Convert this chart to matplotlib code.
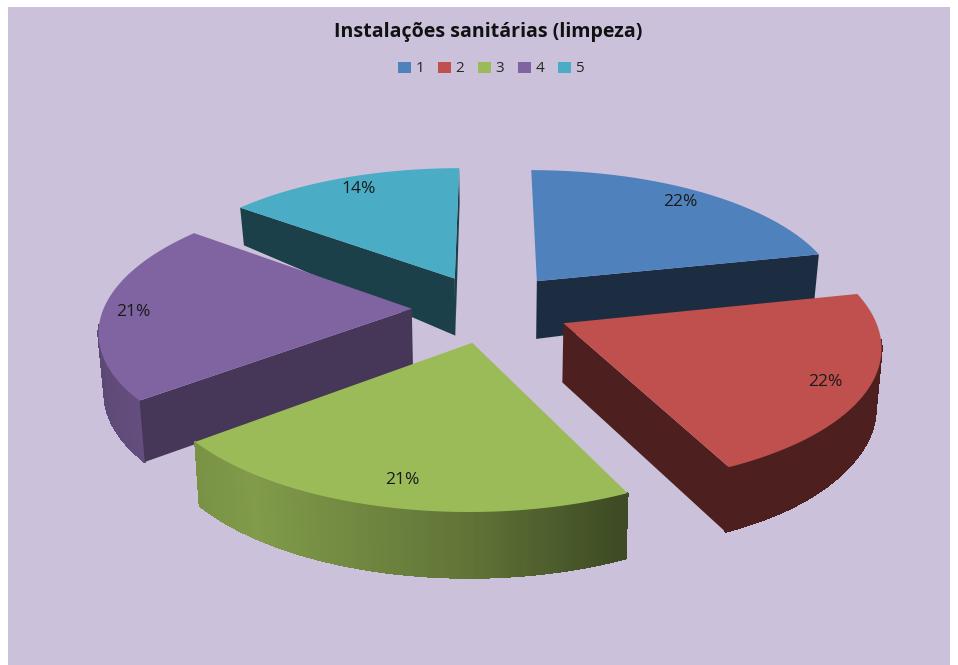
import numpy as np
import matplotlib
matplotlib.use("Agg")
import matplotlib.pyplot as plt
from matplotlib.patches import Patch, Polygon, Rectangle

title = "Instalações sanitárias (limpeza)"
categories = ["1", "2", "3", "4", "5"]
values = [22, 22, 21, 21, 14]
labels = ["22%", "22%", "21%", "21%", "14%"]
colors = ["#4f81bd", "#c0504d", "#9bbb59", "#8064a2", "#4bacc6"]

CX, CY, A, B, K = 491.0, 308.0, 308.0, 134.0, 0.143
EXPLODE = 0.257
BOTTOM_SCALE = 0.985
DEPTH_V = [-1.3, -0.9, -0.6, 0.2, 0.5, 0.8, 1.3]
DEPTH_PX = [66, 64, 61, 58, 47, 38, 34]
TWIST_AT = [0, 60, 79, 158, 180, 234, 300, 360]
TWIST_DEG = [0, -1.8, -1.8, -3.8, -3.8, -2.6, -2.2, 0]
LABEL_DX = [5, -5, 6, -6, 12]
LABEL_DY = [2, 3, -4, 1, -2]


def twist(angle):
    return angle + np.deg2rad(np.interp(np.rad2deg(angle) % 360, TWIST_AT, TWIST_DEG))


def project(u, v, bottom=False):
    w = 1 + K * v
    x = CX + A * u / w
    y = CY - B * v / w
    if bottom:
        x = CX + (x - CX) * BOTTOM_SCALE
        y = y + np.interp(v, DEPTH_V, DEPTH_PX)
    return x, y


def side_colour(rgb, nx):
    f = np.interp(nx, [-1.0, -0.6, 0.0, 0.4, 1.0], [0.72, 0.83, 0.62, 0.40, 0.40])
    return tuple(np.array(rgb) * f)


fig = plt.figure(figsize=(9.58, 6.65), dpi=100, facecolor="white")
ax = fig.add_axes([0, 0, 1, 1])
ax.set_xlim(0, 958)
ax.set_ylim(665, 0)
ax.axis("off")
ax.add_patch(Rectangle((8, 7), 942, 658, fc="#ccc1da", ec="none", zorder=0))

fractions = np.array(values, float) / np.sum(values)
edges = np.concatenate([[0], np.cumsum(fractions)]) * 2 * np.pi
cut_shade = [0.35, 0.40, 0.40, 0.55, 0.37]

order = [4, 0, 3, 1, 2]
zo = 2
for i in order:
    a0, a1 = edges[i], edges[i + 1]
    mid = 0.5 * (a0 + a1) + np.deg2rad(-3.0)
    ou, ov = EXPLODE * np.sin(mid), EXPLODE * np.cos(mid)
    th = np.linspace(a0, a1 - 1e-9, 120)
    wt = twist(th)
    u = ou + np.sin(wt)
    v = ov + np.cos(wt)
    rgb = matplotlib.colors.to_rgb(colors[i])

    # curved outer side as narrow strips
    for j in range(len(wt) - 1):
        centre = 0.5 * (wt[j] + wt[j + 1])
        if np.cos(centre) > -0.12:
            continue
        xa, ya = project(u[j:j + 2], v[j:j + 2])
        xb, yb = project(u[j:j + 2], v[j:j + 2], True)
        c = side_colour(rgb, np.sin(centre))
        ax.add_patch(Polygon(np.c_[np.r_[xa, xb[::-1]], np.r_[ya, yb[::-1]]],
                             fc=c, ec=c, lw=0.8, antialiased=False, zorder=zo))

    # flat cut faces turned to the viewer (the edge at 12 o'clock shows none)
    for k, (au, av) in enumerate([(u[0], v[0]), (u[-1], v[-1])]):
        if k == 0 and a0 == 0:
            continue
        x0, y0 = project(ou, ov)
        x1, y1 = project(au, av)
        x2, y2 = project(au, av, True)
        x3, y3 = project(ou, ov, True)
        tx, ty = project(ou + 0.5 * np.sin(mid), ov + 0.5 * np.cos(mid))
        cross_bot = (x1 - x0) * (y3 - y0) - (y1 - y0) * (x3 - x0)
        cross_in = (x1 - x0) * (ty - y0) - (y1 - y0) * (tx - x0)
        if cross_bot * cross_in < 0:
            ax.add_patch(Polygon([(x0, y0), (x1, y1), (x2, y2), (x3, y3)],
                                 fc=tuple(np.array(rgb) * cut_shade[i]), ec="none", zorder=zo + 1))

    # top face
    tx, ty = project(np.r_[ou, u], np.r_[ov, v])
    ax.add_patch(Polygon(np.c_[tx, ty], fc=colors[i], ec="none", zorder=zo + 2))

    # percentage label near the rim
    lx, ly = project(ou + 0.88 * np.sin(mid), ov + 0.88 * np.cos(mid))
    ax.text(lx + LABEL_DX[i], ly + LABEL_DY[i], labels[i], ha="center", va="center", fontsize=12.5,
            family="Open Sans", color="#1a1a1a", zorder=20)
    zo += 3

ax.text(488, 32, title, ha="center", va="center", fontsize=14.1,
        family="Open Sans", fontweight="bold", color="#111111", zorder=20)

handles = [Patch(fc=c, ec="none", label=n) for c, n in zip(colors, categories)]
ax.legend(handles=handles, loc="center", bbox_to_anchor=(491 / 958, 1 - 69 / 665), ncol=5,
          frameon=False, handlelength=0.85, handleheight=0.75, handletextpad=0.3,
          columnspacing=0.9, prop={"family": "Open Sans", "size": 11}, labelcolor="#262626")

fig.savefig("out.png", dpi=100, facecolor="white")
